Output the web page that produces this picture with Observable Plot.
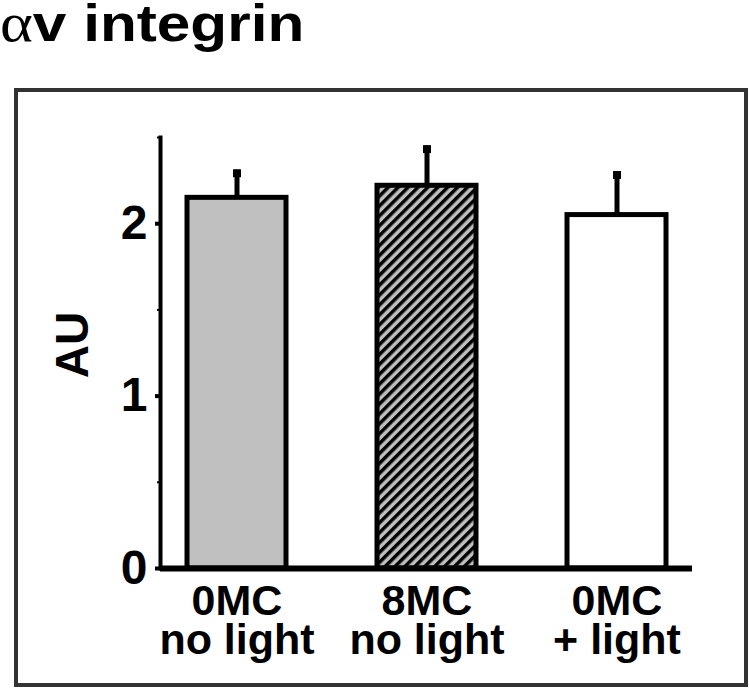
<!DOCTYPE html>
<html>
<head>
<meta charset="utf-8">
<script src="https://cdn.jsdelivr.net/npm/d3@7"></script>
<script src="https://cdn.jsdelivr.net/npm/@observablehq/plot@0.6"></script>
<style>
  html, body { margin: 0; padding: 0; background: #fff; }
  body { position: relative; width: 749px; height: 691px; overflow: hidden; font-family: "Liberation Sans", Arial, sans-serif; }
  #title { position: absolute; left: 0; top: 0; font-size: 52px; line-height: 46px; font-weight: bold; white-space: nowrap; transform-origin: 0 0; transform: scaleX(1.16); }
  #title .alpha { font-family: "Liberation Serif", "Times New Roman", serif; font-weight: normal; font-size: 54px; }
  #frame { position: absolute; left: 14px; top: 88px; width: 734px; height: 599px; border: 4px solid #333; box-sizing: border-box; }
  #chart { position: absolute; left: 0; top: 88px; }
</style>
</head>
<body>
<div id="title"><span class="alpha">α</span>v integrin</div>
<div id="frame"></div>
<div id="chart"></div>
<script>
const categories = ["0MC\nno light", "8MC\nno light", "0MC\n+ light"];
const means = [2.15, 2.22, 2.05];
const errors = [0.16, 0.23, 0.25];
const fills = ["#c0c0c0", "url(#hatch)", "#ffffff"];
const yTicks = [0, 1, 2];
const yMinorTicks = [0.5, 1.5, 2.5];
const yLabel = "AU";

const data = categories.map((c, i) => ({cat: c, mean: means[i], err: errors[i], fill: fills[i]}));

const plot = Plot.plot({
  width: 749,
  height: 603,
  marginTop: 49,
  marginBottom: 123,
  marginLeft: 160,
  marginRight: 57,
  style: {fontFamily: "'Liberation Sans', Arial, sans-serif", color: "black", background: "transparent", overflow: "visible"},
  x: {domain: categories, paddingInner: 0.48, paddingOuter: 0.136},
  y: {domain: [0, 2.5]},
  marks: [
    ...data.map(d => Plot.barY([d], {x: "cat", y: "mean", fill: d.fill, stroke: "black", strokeWidth: 5})),
    Plot.ruleX(data, {x: "cat", y1: "mean", y2: d => d.mean + d.err, stroke: "black", strokeWidth: 5}),
    Plot.dot(data, {x: "cat", y: d => d.mean + d.err, symbol: "square", r: 4.5, fill: "black", stroke: null, dy: 3}),
    Plot.ruleY([0], {stroke: "black", strokeWidth: 6}),
    Plot.frame({anchor: "left", stroke: "black", strokeWidth: 4}),
    Plot.axisY(yTicks, {tickSize: 5, tickPadding: 8, fontSize: 48, fontWeight: "bold", strokeWidth: 4, tickFormat: d => String(d), label: null}),
    Plot.axisY(yMinorTicks, {tickSize: 3, tickFormat: () => "", strokeWidth: 2, label: null}),
    Plot.axisX({tickSize: 0, tickPadding: 18, fontSize: 43, fontWeight: "bold", lineHeight: 0.92, label: null}),
    Plot.text([yLabel], {text: d => d, frameAnchor: "left", dx: -87, dy: -8, rotate: -90, fontSize: 46, fontWeight: "bold", textAnchor: "middle", lineAnchor: "middle", fill: "black"})
  ]
});

const svg = d3.select(plot);
const defs = svg.insert("defs", ":first-child");
const pat = defs.append("pattern")
  .attr("id", "hatch")
  .attr("patternUnits", "userSpaceOnUse")
  .attr("width", 7)
  .attr("height", 7)
  .attr("patternTransform", "rotate(45)");
pat.append("rect").attr("width", 7).attr("height", 7).attr("fill", "#c0c0c0");
pat.append("rect").attr("width", 3.5).attr("height", 7).attr("fill", "#000");

document.getElementById("chart").appendChild(plot);
</script>
</body>
</html>
